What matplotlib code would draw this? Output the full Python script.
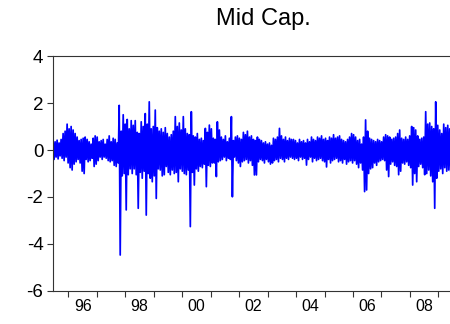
import numpy as np
import matplotlib
matplotlib.use("Agg")
import matplotlib.pyplot as plt

plt.rcParams["axes.unicode_minus"] = False

# Mid Cap daily returns, read off the chart as upper / lower envelope
# per ~2.5 week step, starting mid-1995
start_year = 1995.46
step = 0.0704

upper = [
    0.40, 0.35, 0.42, 0.30, 0.45, 0.70, 0.80, 1.10, 0.90, 1.00,
    0.85, 0.70, 0.55, 0.40, 0.45, 0.50, 0.55, 0.45, 0.35, 0.25,
    0.50, 0.60, 0.55, 0.35, 0.40, 0.45, 0.25, 0.45, 0.60, 0.35,
    0.50, 0.45, 0.30, 1.90, 0.80, 1.50, 1.10, 1.30, 0.90, 1.25,
    # 1998 - 2000
    1.05, 1.25, 0.75, 0.70, 1.20, 1.00, 1.55, 1.10, 2.05, 0.90,
    1.00, 1.70, 0.95, 0.80, 0.90, 0.75, 0.95, 0.70, 0.55, 0.65,
    0.80, 1.42, 1.00, 1.15, 0.85, 1.42, 0.90, 0.70, 0.65, 1.63,
    0.60, 0.55, 0.70, 0.45, 0.50, 0.40, 0.92, 0.75, 1.06, 0.90,
    # 2001 - 2003
    0.50, 0.45, 1.20, 0.85, 0.55, 0.45, 0.60, 0.35, 0.50, 1.42,
    0.40, 0.55, 0.60, 0.50, 0.45, 0.75, 0.65, 0.80, 0.55, 0.60,
    0.45, 0.40, 0.55, 0.45, 0.40, 0.30, 0.35, 0.25, 0.30, 0.20,
    0.50, 0.45, 0.55, 0.92, 0.60, 0.45, 0.55, 0.40, 0.50, 0.45,
    # 2004 - 2006
    0.45, 0.40, 0.30, 0.45, 0.35, 0.40, 0.30, 0.45, 0.35, 0.55,
    0.45, 0.40, 0.55, 0.50, 0.60, 0.45, 0.50, 0.40, 0.55, 0.50,
    0.65, 0.50, 0.55, 0.60, 0.45, 0.40, 0.35, 0.45, 0.55, 0.70,
    0.65, 0.55, 0.40, 0.45, 0.25, 0.55, 1.28, 0.80, 0.50, 0.45,
    # 2007 - 2009
    0.40, 0.35, 0.45, 0.40, 0.35, 0.55, 0.65, 0.60, 0.55, 0.45,
    0.50, 0.55, 0.70, 0.85, 0.50, 0.45, 0.55, 0.45, 0.60, 1.00,
    0.95, 0.85, 0.60, 0.45, 0.50, 0.55, 1.63, 1.10, 1.15, 1.00,
    0.90, 2.05, 1.05, 0.85, 0.70, 1.10, 0.95, 1.05, 0.90,
]

lower = [
    -0.40, -0.30, -0.38, -0.25, -0.35, -0.45, -0.30, -0.55, -0.75, -0.85,
    -0.60, -0.50, -0.40, -0.55, -0.90, -1.00, -0.40, -0.50, -0.45, -0.35,
    -0.70, -0.60, -0.45, -0.30, -0.40, -0.30, -0.35, -0.45, -0.50, -0.45,
    -0.65, -0.70, -0.55, -4.47, -1.10, -1.00, -2.55, -1.05, -0.80, -1.00,
    # 1998 - 2000
    -0.80, -1.05, -2.48, -0.95, -1.20, -0.90, -2.77, -1.00, -1.20, -1.35,
    -1.10, -2.06, -0.80, -0.85, -1.10, -1.05, -0.70, -0.95, -1.05, -0.85,
    -1.00, -0.95, -1.35, -0.80, -0.90, -1.00, -1.05, -0.85, -3.26, -0.95,
    -1.49, -0.80, -0.90, -0.70, -0.75, -0.60, -1.56, -0.65, -0.70, -0.55,
    # 2001 - 2003
    -0.55, -1.13, -0.50, -0.45, -0.40, -0.30, -0.45, -0.35, -0.40, -1.99,
    -0.30, -0.45, -0.55, -0.70, -0.50, -0.45, -0.40, -0.55, -0.45, -0.65,
    -1.06, -1.06, -0.50, -0.40, -0.45, -0.55, -0.40, -0.50, -0.60, -0.55,
    -0.45, -0.40, -0.50, -0.35, -0.40, -0.50, -0.35, -0.40, -0.30, -0.35,
    # 2004 - 2006
    -0.40, -0.35, -0.45, -0.30, -0.40, -0.35, -0.64, -0.40, -0.30, -0.50,
    -0.35, -0.45, -0.40, -0.35, -0.45, -0.50, -0.72, -0.40, -0.55, -0.45,
    -0.40, -0.35, -0.50, -0.45, -0.55, -0.40, -0.60, -0.50, -0.45, -0.55,
    -0.45, -0.60, -0.75, -0.55, -0.85, -1.77, -1.70, -1.00, -0.80, -0.75,
    # 2007 - 2009
    -0.55, -0.65, -0.50, -0.45, -0.40, -0.45, -0.85, -1.13, -0.60, -0.50,
    -0.65, -0.70, -1.05, -0.90, -0.55, -0.60, -0.50, -0.65, -0.75, -1.49,
    -1.00, -1.35, -0.70, -0.60, -0.75, -1.05, -1.00, -0.85, -1.10, -1.35,
    -2.48, -1.20, -0.90, -0.80, -1.00, -0.75, -0.90, -0.85, -0.90,
]

even_years = ["96", "98", "00", "02", "04", "06", "08"]

t = start_year + np.arange(len(upper)) * step
x = np.column_stack([t, t + step / 2]).ravel()
y = np.column_stack([upper, lower]).ravel()

fig = plt.figure(figsize=(4.5, 3.24), dpi=100)
ax = fig.add_axes([0.118, 0.102, 0.884, 0.725])
ax.plot(x, y, color="#0000FF", lw=1.25)

ax.set_xlim(1995.46, 2009.44)
ax.set_ylim(-6, 4)
ax.set_yticks([-6, -4, -2, 0, 2, 4])

# year boundaries as ticks, labels in the middle of even years
ax.set_xticks(np.arange(1996, 2010))
ax.set_xticklabels([])
ax.set_xticks(np.arange(1996.5, 2009, 2), minor=True)
ax.set_xticklabels(even_years, minor=True, fontsize=11.5, family="Liberation Sans")
ax.tick_params(axis="x", which="major", direction="out", length=4, width=0.8, color="#333333")
ax.tick_params(axis="x", which="minor", length=0, pad=6)
ax.tick_params(axis="y", direction="out", length=4, width=0.8, color="#333333",
               labelsize=13.5, pad=3)
for lab in ax.get_yticklabels():
    lab.set_family("Liberation Sans")

for s in ["left", "bottom", "top"]:
    ax.spines[s].set_color("#333333")
    ax.spines[s].set_linewidth(0.8)
ax.spines["right"].set_visible(False)

fig.text(263 / 450, 1 - 19 / 324, "Mid Cap.", fontsize=17, family="Liberation Sans",
         ha="center", va="center")

fig.savefig("out.png", dpi=100)
